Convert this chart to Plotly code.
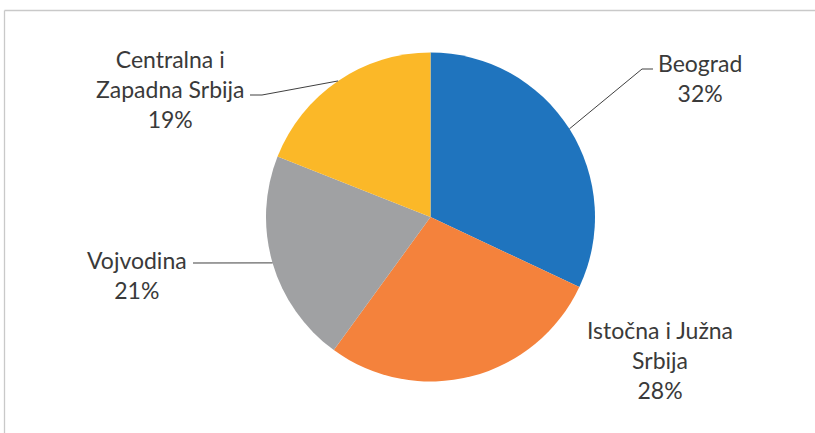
import math
import plotly.graph_objects as go

# Regional shares (%)
regions = ["Beograd", "Istočna i Južna Srbija", "Vojvodina", "Centralna i Zapadna Srbija"]
shares = [32, 28, 21, 19]
label_text = ["Beograd", "Istočna i Južna<br>Srbija", "Vojvodina", "Centralna i<br>Zapadna Srbija"]
colors = ["#1F74BE", "#F4823C", "#A0A1A3", "#FBB828"]

W, H = 815, 433
CX, CY, R = 430.5, 217.0, 164.5

def px(x):
    return x / W

def py(y):
    return 1 - y / H

fig = go.Figure(go.Pie(
    labels=regions,
    values=shares,
    sort=False,
    direction="clockwise",
    rotation=0,
    textinfo="none",
    hoverinfo="label+percent",
    marker=dict(colors=colors, line=dict(width=0)),
    domain=dict(x=[px(CX - R), px(CX + R)], y=[py(CY + R), py(CY - R)]),
    showlegend=False,
))

# mid-angle of each slice on the rim (clockwise from 12 o'clock)
total = sum(shares)
rim = []
acc = 0.0
for v in shares:
    mid = (acc + v / 2) / total * 2 * math.pi
    rim.append((CX + R * math.sin(mid), CY - R * math.cos(mid)))
    acc += v

# label block centres and leader-line elbows (pixels)
label_pos = [(700, 78), (660, 360), (137, 275), (170, 89)]
elbows = [
    [(642, 69), (653, 69)],
    None,
    [(193, 263)],
    [(262, 95), (250, 95)],
]

shapes = []
for i, pts in enumerate(elbows):
    if not pts:
        continue
    chain = [rim[i]] + pts
    path = "M " + " L ".join(f"{px(x)},{py(y)}" for x, y in chain)
    shapes.append(dict(type="path", path=path, xref="paper", yref="paper",
                       line=dict(color="#404040", width=1)))

# chart frame (top and left edges)
shapes.append(dict(type="line", xref="paper", yref="paper",
                   x0=px(4.5), x1=1, y0=py(10.5), y1=py(10.5),
                   line=dict(color="#C9C9C9", width=1.3)))
shapes.append(dict(type="line", xref="paper", yref="paper",
                   x0=px(4.5), x1=px(4.5), y0=py(10.5), y1=0,
                   line=dict(color="#C9C9C9", width=1.3)))

annotations = []
for i, (t, v) in enumerate(zip(label_text, shares)):
    x, y = label_pos[i]
    annotations.append(dict(
        text=f"{t}<br>{round(v / total * 100)}%",
        x=px(x), y=py(y), xref="paper", yref="paper",
        xanchor="center", yanchor="middle", showarrow=False, align="center",
        font=dict(family="Lato", size=23, color="#3A3A3A"),
    ))

fig.update_layout(
    width=W, height=H,
    margin=dict(l=0, r=0, t=0, b=0),
    paper_bgcolor="white",
    plot_bgcolor="white",
    shapes=shapes,
    annotations=annotations,
)

fig.write_html("out.html")
